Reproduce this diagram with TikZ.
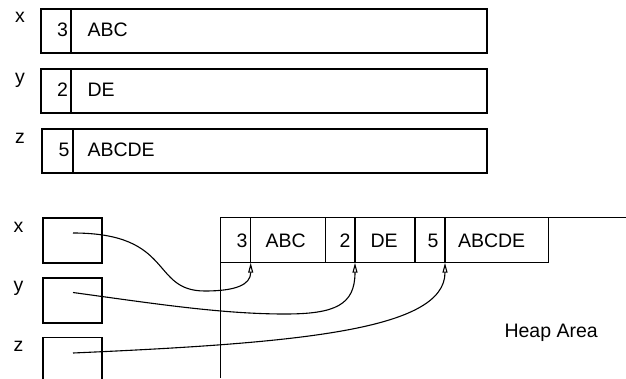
\documentclass[tikz,border=0pt]{standalone}
\usepackage{fontspec}
\setmainfont{Liberation Sans}
\usetikzlibrary{arrows.meta}
\begin{document}
\begin{tikzpicture}[x=1pt,y=-1pt, line width=1.1pt,
  cell/.style={draw, rectangle, anchor=north west, inner sep=0pt, outer sep=0pt, minimum height=44pt},
  hcell/.style={draw, rectangle, anchor=north west, inner sep=0pt, outer sep=0pt, minimum height=45pt},
  txt/.style={inner sep=0pt, font=\fontsize{19.5}{21}\selectfont},
  ptr/.style={-{Triangle[open,length=10pt,width=5pt]}, line width=1.1pt}]
\useasboundingbox (0,0) rectangle (626,378);
\clip (0,0) rectangle (626,378);

% ---- top: three string records ----
\node[cell, minimum width=30pt] (tx1) at (41,9) {};
\node[cell, minimum width=416pt] (tx2) at (tx1.north east) {};
\node[txt, anchor=base east] (tx3) at (68.5,36) {3};
\node[txt, anchor=base west] (tx4) at (87,36) {ABC};
\node[txt, anchor=base] (lx1) at (20,22) {x};

\node[cell, minimum width=30pt] (ty1) at (41,69) {};
\node[cell, minimum width=416pt] (ty2) at (ty1.north east) {};
\node[txt, anchor=base east] (ty3) at (68.5,96) {2};
\node[txt, anchor=base west] (ty4) at (87,96) {DE};
\node[txt, anchor=base] (ly1) at (20,83) {y};

\node[cell, minimum width=31pt] (tz1) at (42,129) {};
\node[cell, minimum width=414pt] (tz2) at (tz1.north east) {};
\node[txt, anchor=base east] (tz3) at (70,156.5) {5};
\node[txt, anchor=base west] (tz4) at (87,156.5) {ABCDE};
\node[txt, anchor=base] (lz1) at (20,143) {z};

% ---- bottom: pointer variables ----
\node[hcell, minimum width=59pt] (bx) at (43,218) {};
\node[hcell, minimum width=59pt] (by) at (43,278) {};
\node[hcell, minimum width=59pt, minimum height=60pt] (bz) at (43,337.5) {};
\node[txt, anchor=base] (lx2) at (18.5,232) {x};
\node[txt, anchor=base] (ly2) at (18.5,291) {y};
\node[txt, anchor=base] (lz2) at (18.5,351) {z};
\coordinate (px) at (73,233);
\coordinate (py) at (73,292.5);
\coordinate (pz) at (73,353);

% ---- heap ----
\coordinate (hb) at (220.7,378);
\coordinate (ht) at (220.7,217.7);
\coordinate (hr) at (626,217.7);
\draw (hb) -- (ht) -- (hr);
\node[hcell, minimum width=30pt] (h3) at (ht) {};
\node[hcell, minimum width=74.6pt] (hABC) at (h3.north east) {};
\node[hcell, minimum width=29.7pt] (h2) at (hABC.north east) {};
\node[hcell, minimum width=60pt] (hDE) at (h2.north east) {};
\node[hcell, minimum width=30pt] (h5) at (hDE.north east) {};
\node[hcell, minimum width=103.3pt] (hABCDE) at (h5.north east) {};
\node[txt, anchor=base east] (t3) at (248,247) {3};
\node[txt, anchor=base west] (tABC) at (265,247) {ABC};
\node[txt, anchor=base east] (t2) at (351,247) {2};
\node[txt, anchor=base west] (tDE) at (370,247) {DE};
\node[txt, anchor=base east] (t5) at (439,247) {5};
\node[txt, anchor=base west] (tABCDE) at (457.5,247) {ABCDE};
\node[txt, anchor=base west] (heap) at (504,337.7) {Heap Area};

% ---- pointers ----
\draw[ptr] (px) .. controls (175,233) and (150,291) .. (205,291)
  .. controls (235,291) and (250.7,285) .. (h3.south east);
\draw[ptr] (py) .. controls (150,303) and (220,314) .. (285,314)
  .. controls (335,314) and (355,305) .. (h2.south east);
\draw[ptr] (pz) .. controls (300,343) and (445,330) .. (h5.south east);
\end{tikzpicture}
\end{document}
